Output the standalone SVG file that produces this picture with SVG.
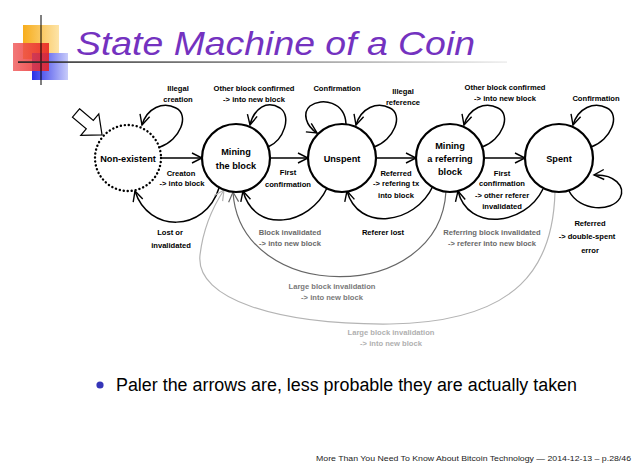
<svg xmlns="http://www.w3.org/2000/svg" width="638" height="473" viewBox="0 0 638 473">
<style>
.node{fill:#fff;stroke:#000;stroke-width:2.2}
.dotted{stroke-dasharray:0.1 3.9;stroke-linecap:round;stroke-width:2.4}
.nl{font-family:"Liberation Sans",Arial,sans-serif;font-weight:bold;font-size:9.2px;fill:#000;text-anchor:middle}
.el{font-family:"Liberation Sans",Arial,sans-serif;font-weight:bold;font-size:7.6px;fill:#000;text-anchor:middle}
.g1{fill:#6a6a6a}.g2{fill:#7a7a7a}.g3{fill:#b0b0b0}
.e{fill:none;stroke:#000;stroke-width:1.5;marker-end:url(#ah)}
.em{fill:none;stroke:#666;stroke-width:1.2;marker-end:url(#ahm)}
.el2{fill:none;stroke:#b4b4b4;stroke-width:1.2;marker-end:url(#ahl)}
</style>
<defs>
<marker id="ah" markerUnits="userSpaceOnUse" markerWidth="14" markerHeight="14" refX="10" refY="5" orient="auto" overflow="visible"><path d="M0,0 L10,5 L0,10" fill="none" stroke="#000" stroke-width="1.4"/></marker>
<marker id="ahm" markerUnits="userSpaceOnUse" markerWidth="14" markerHeight="14" refX="10" refY="5" orient="auto" overflow="visible"><path d="M0,0 L10,5 L0,10" fill="none" stroke="#666" stroke-width="1.2"/></marker>
<marker id="ahl" markerUnits="userSpaceOnUse" markerWidth="14" markerHeight="14" refX="10" refY="5" orient="auto" overflow="visible"><path d="M0,0 L10,5 L0,10" fill="none" stroke="#b4b4b4" stroke-width="1.2"/></marker>
<linearGradient id="ul" x1="0" x2="1" y1="0" y2="0"><stop offset="0" stop-color="#222"/><stop offset="0.5" stop-color="#888"/><stop offset="1" stop-color="#eee"/></linearGradient>
<linearGradient id="gor" x1="0" x2="1"><stop offset="0" stop-color="#f7ad1c"/><stop offset="1" stop-color="#fde4a8"/></linearGradient>
<linearGradient id="gre" x1="0" x2="1"><stop offset="0" stop-color="#f06060"/><stop offset="1" stop-color="#e81c1c"/></linearGradient>
<linearGradient id="gbl" x1="0" x2="1"><stop offset="0" stop-color="#2a30e8"/><stop offset="1" stop-color="#c8ccfa"/></linearGradient>
</defs>
<rect width="638" height="473" fill="#fff"/>
<g id="logo">
<rect x="23" y="25" width="36" height="34" fill="url(#gor)"/>
<rect x="32" y="53" width="36" height="27" fill="url(#gbl)"/>
<rect x="13" y="43" width="36" height="28" fill="url(#gre)" opacity="0.85"/>
<line x1="41" y1="15" x2="41" y2="85" stroke="#000" stroke-width="1"/>
</g>
<rect x="18" y="61.3" width="489" height="1.6" fill="url(#ul)"/>
<text x="76" y="55" font-family="Liberation Sans,Arial,sans-serif" font-style="italic" font-size="33" fill="#7432c0" textLength="399" lengthAdjust="spacingAndGlyphs">State Machine of a Coin</text>

<g id="connectors">
<polygon points="0,-5.5 18,-5.5 18,-14 34,0 18,14 18,5.5 0,5.5" fill="#fff" stroke="#000" stroke-width="1.2" transform="translate(76,113) rotate(40)"/>
<path class="e" d="M160,147 C180,140 190,115 176,108 C163,101 147,108 142,125"/>
<path class="e" d="M268,147 C284,140 292,116 280,108 C267,100 254,108 250,125"/>
<path class="e" d="M346,124 C345,102 322,97 310,106 C302,113 306,126 317,133"/>
<path class="e" d="M374,147 C394,140 404,115 390,108 C377,101 361,108 356,125"/>
<path class="e" d="M482,147 C502,140 512,115 498,108 C485,101 469,108 464,125"/>
<path class="e" d="M591,147 C611,140 621,115 607,108 C594,101 578,108 573,125"/>
<path class="e" d="M569,191 C580,212 612,212 620,198 C626,186 614,174 594,175"/>
<path class="e" d="M162,158 L202,158"/>
<path class="e" d="M270,158 L308,158"/>
<path class="e" d="M376,158 L416,158"/>
<path class="e" d="M484,158 L525,158"/>
<path class="e" d="M219,188 C205,233 148,233 135,191"/>
<path class="e" d="M327,188 C310,225 255,235 243,191"/>
<path class="e" d="M433,186 C415,225 358,232 347,191"/>
<path class="e" d="M543,189 C525,226 468,232 458,191"/>
<path class="em" d="M446,191 C440,305 240,305 233,192"/>
<path class="el2" d="M555,192 C553,265 520,322 390,324 C280,325 195,300 200,255 C203,230 212,208 224,190"/>
</g>

<g id="n-nonexistent"><circle class="node dotted" cx="128" cy="158" r="33"/><text class="nl" x="128" y="161.5">Non-existent</text></g>
<g id="n-mining"><circle class="node" cx="236" cy="158" r="34"/><text class="nl" x="236" y="155">Mining</text><text class="nl" x="236" y="169">the block</text></g>
<g id="n-unspent"><circle class="node" cx="342" cy="158" r="34"/><text class="nl" x="342" y="162">Unspent</text></g>
<g id="n-miningref"><circle class="node" cx="450" cy="158" r="34"/><text class="nl" x="450" y="149">Mining</text><text class="nl" x="450" y="162">a referring</text><text class="nl" x="450" y="175">block</text></g>
<g id="n-spent"><circle class="node" cx="559" cy="158" r="34"/><text class="nl" x="559" y="162">Spent</text></g>

<g id="labels">
<text class="el" x="178" y="91">Illegal</text><text class="el" x="178" y="102">creation</text>
<text class="el" x="254" y="91">Other block confirmed</text><text class="el" x="254" y="102">-&gt; into new block</text>
<text class="el" x="337" y="91">Confirmation</text>
<text class="el" x="403" y="94">Illegal</text><text class="el" x="403" y="105">reference</text>
<text class="el" x="505" y="90">Other block confirmed</text><text class="el" x="505" y="101">-&gt; into new block</text>
<text class="el" x="596" y="101">Confirmation</text>
<text class="el" x="181" y="176">Creaton</text><text class="el" x="182" y="186">-&gt; into block</text>
<text class="el" x="288" y="175">First</text><text class="el" x="288" y="187">confirmation</text>
<text class="el" x="396" y="176">Referred</text><text class="el" x="396" y="186">-&gt; refering tx</text><text class="el" x="396" y="198">into block</text>
<text class="el" x="502" y="176">First</text><text class="el" x="502" y="186">confirmation</text><text class="el" x="502" y="198">-&gt; other referer</text><text class="el" x="502" y="209">invalidated</text>
<text class="el" x="170" y="235">Lost or</text><text class="el" x="171" y="248">invalidated</text>
<text class="el g1" x="290" y="235">Block invalidated</text><text class="el g1" x="290" y="246">-&gt; into new block</text>
<text class="el" x="383" y="235">Referer lost</text>
<text class="el g1" x="492" y="235">Referring block invalidated</text><text class="el g1" x="492" y="246">-&gt; referer into new block</text>
<text class="el" x="590" y="226">Referred</text><text class="el" x="587" y="239">-&gt; double-spent</text><text class="el" x="590" y="253">error</text>
<text class="el g2" x="332" y="289">Large block invalidation</text><text class="el g2" x="332" y="300">-&gt; into new block</text>
<text class="el g3" x="391" y="335">Large block invalidation</text><text class="el g3" x="391" y="346">-&gt; into new block</text>
</g>

<circle cx="100" cy="385" r="3.6" fill="#3535b8"/>
<text x="116" y="391" font-family="Liberation Sans,Arial,sans-serif" font-size="17.6" fill="#000" textLength="461" lengthAdjust="spacingAndGlyphs">Paler the arrows are, less probable they are actually taken</text>
<text x="316" y="461" font-family="Liberation Sans,Arial,sans-serif" font-size="7.6" fill="#222" textLength="315" lengthAdjust="spacingAndGlyphs">More Than You Need To Know About Bitcoin Technology — 2014-12-13 – p.28/46</text>
</svg>
